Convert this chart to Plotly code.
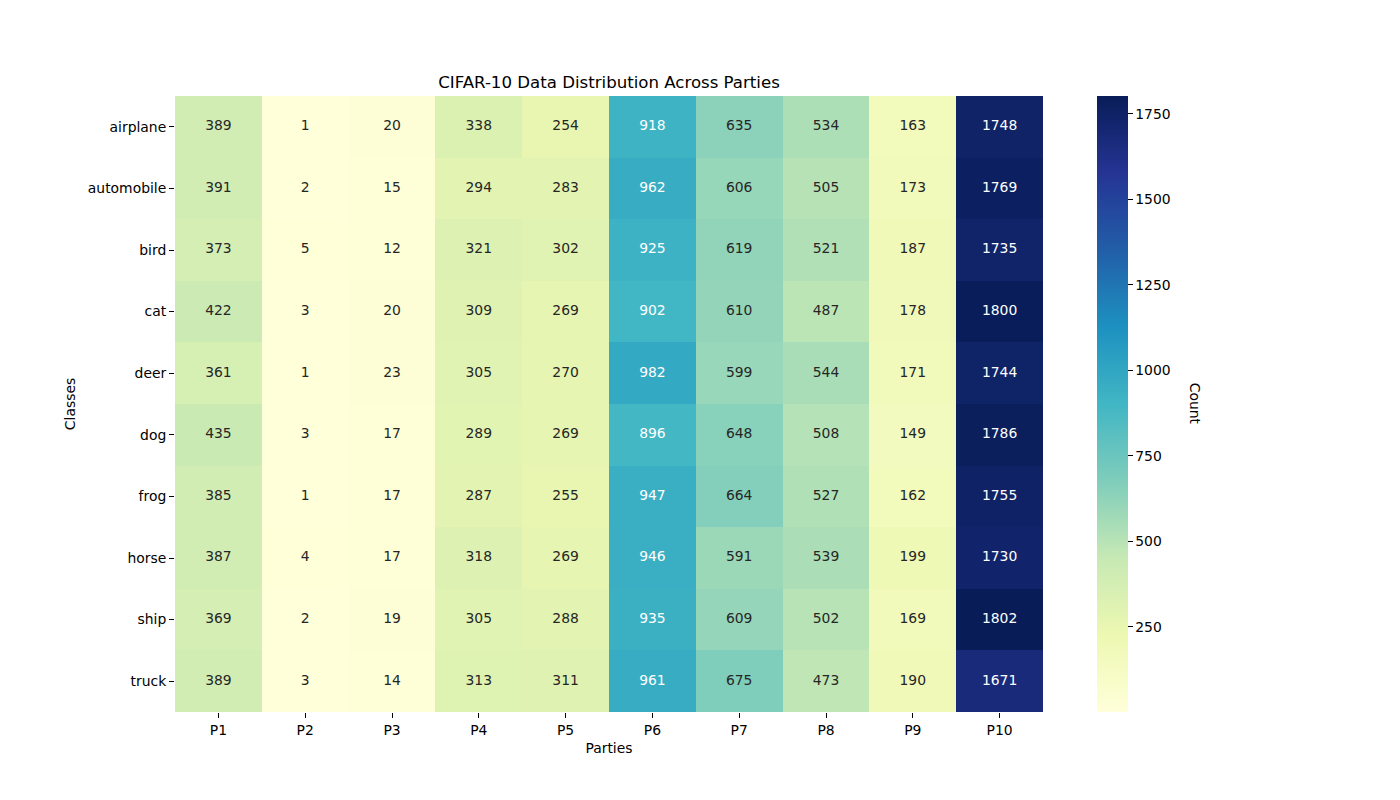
import plotly.graph_objects as go

# CIFAR-10 class counts per party
classes = ["airplane", "automobile", "bird", "cat", "deer",
           "dog", "frog", "horse", "ship", "truck"]
parties = ["P1", "P2", "P3", "P4", "P5", "P6", "P7", "P8", "P9", "P10"]

airplane = [389, 1, 20, 338, 254, 918, 635, 534, 163, 1748]
automobile = [391, 2, 15, 294, 283, 962, 606, 505, 173, 1769]
bird = [373, 5, 12, 321, 302, 925, 619, 521, 187, 1735]
cat = [422, 3, 20, 309, 269, 902, 610, 487, 178, 1800]
deer = [361, 1, 23, 305, 270, 982, 599, 544, 171, 1744]
dog = [435, 3, 17, 289, 269, 896, 648, 508, 149, 1786]
frog = [385, 1, 17, 287, 255, 947, 664, 527, 162, 1755]
horse = [387, 4, 17, 318, 269, 946, 591, 539, 199, 1730]
ship = [369, 2, 19, 305, 288, 935, 609, 502, 169, 1802]
truck = [389, 3, 14, 313, 311, 961, 675, 473, 190, 1671]

counts = [airplane, automobile, bird, cat, deer, dog, frog, horse, ship, truck]
cbar_ticks = [250, 500, 750, 1000, 1250, 1500, 1750]

# matplotlib YlGnBu
ylgnbu = ["#ffffd9", "#edf8b1", "#c7e9b4", "#7fcdbb", "#41b6c4",
          "#1d91c0", "#225ea8", "#253494", "#081d58"]
scale = [[i / (len(ylgnbu) - 1), c] for i, c in enumerate(ylgnbu)]

vmin = min(min(r) for r in counts)
vmax = max(max(r) for r in counts)

FONT = "DejaVu Sans"
FS = 13.9

fig = go.Figure()
fig.add_trace(go.Heatmap(
    z=counts, x=parties, y=classes,
    colorscale=scale, zmin=vmin, zmax=vmax,
    xgap=0, ygap=0, hoverinfo="skip",
    colorbar=dict(
        x=1.062, xanchor="left", y=0, yanchor="bottom", xpad=0, ypad=0,
        len=1, lenmode="fraction", thickness=31, thicknessmode="pixels",
        outlinewidth=0, tickvals=cbar_ticks, ticks="outside", ticklen=5,
        tickcolor="#000", tickfont=dict(family=FONT, size=FS, color="#000"),
    ),
))

# cell labels, light text on dark cells like seaborn
xs, ys, txt, cols = [], [], [], []
for cls, row in zip(classes, counts):
    for p, v in zip(parties, row):
        xs.append(p)
        ys.append(cls)
        txt.append(str(v))
        cols.append("#ffffff" if v > 850 else "#262626")
fig.add_trace(go.Scatter(
    x=xs, y=ys, text=txt, mode="text", hoverinfo="skip", showlegend=False,
    textfont=dict(family=FONT, size=FS, color=cols),
))

fig.add_annotation(text="Count", textangle=90, xref="paper", yref="paper",
                   x=1.187, y=0.5, showarrow=False,
                   font=dict(family=FONT, size=FS, color="#000"))

# the page body adds an 8px offset, so margins are shifted to compensate
fig.update_layout(
    width=1400, height=800,
    margin=dict(l=167, r=365, t=88, b=96),
    paper_bgcolor="white", plot_bgcolor="white",
    font=dict(family=FONT, size=FS, color="#000"),
    title=dict(text="CIFAR-10 Data Distribution Across Parties",
               x=601 / 1400, xanchor="center", y=1 - 74 / 800, yanchor="middle",
               font=dict(family=FONT, size=16.6, color="#000")),
    showlegend=False,
)
fig.update_xaxes(title=dict(text="Parties", standoff=6, font=dict(size=FS)),
                 ticks="outside", ticklen=5,
                 tickcolor="#000", showgrid=False, zeroline=False, showline=False,
                 tickfont=dict(size=FS))
fig.update_yaxes(title=dict(text="Classes", standoff=8, font=dict(size=FS)),
                 ticks="outside", ticklen=5,
                 tickcolor="#000", showgrid=False, zeroline=False, showline=False,
                 autorange="reversed", tickfont=dict(size=FS))

fig.write_html("out.html")
